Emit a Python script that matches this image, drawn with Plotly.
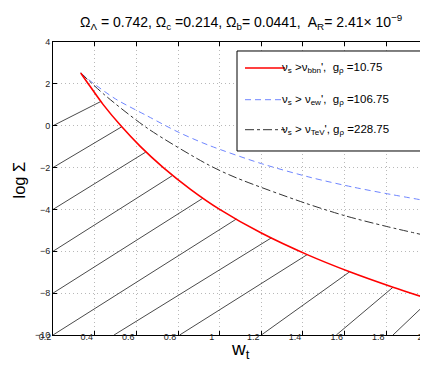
import plotly.graph_objects as go

# ---- data ----
red_x = [0.333, 0.368, 0.44, 0.528, 0.62, 0.728, 0.86, 1.0, 1.2, 1.42, 1.624, 1.832, 2.0]
red_y = [2.52, 2.02, 1.02, -0.03, -1.0, -1.99, -3.04, -4.0, -5.13, -6.16, -6.98, -7.72, -8.27]

blue_x = [0.333, 0.384, 0.5, 0.656, 0.8, 0.944, 1.2, 1.44, 1.648, 1.82, 2.0]
blue_y = [2.52, 2.1, 1.28, 0.45, -0.30, -0.92, -1.81, -2.48, -2.95, -3.28, -3.6]

black_x = [0.333, 0.448, 0.656, 0.944, 1.08, 1.408, 1.608, 1.8, 2.0]
black_y = [2.52, 1.47, -0.14, -1.86, -2.49, -3.69, -4.32, -4.81, -5.27]

# hatch lines: start and end points
hatch_x0 = [0.2, 0.2, 0.2, 0.2, 0.2, 0.2, 0.493, 0.808, 1.20, 1.56, 1.832]
hatch_y0 = [0, -2, -4, -6, -8, -10, -10, -10, -10, -10, -10]
hatch_x1 = [0.43, 0.53, 0.645, 0.775, 0.92, 1.08, 1.248, 1.42, 1.624, 1.832, 2.0]
hatch_y1 = [1.16, -0.05, -1.26, -2.37, -3.46, -4.46, -5.36, -6.16, -6.98, -7.72, -8.41]

x_ticks = [0.2, 0.4, 0.6, 0.8, 1, 1.2, 1.4, 1.6, 1.8, 2]
x_tick_text = ["0.2", "0.4", "0.6", "0.8", "1", "1.2", "1.4", "1.6", "1.8", "2"]
y_ticks = [-10, -8, -6, -4, -2, 0, 2, 4]

legend_labels = [
    "ν<sub>s</sub> >ν<sub>bbn</sub>',  g<sub>ρ</sub> =10.75",
    "ν<sub>s</sub> > ν<sub>ew</sub>',  g<sub>ρ</sub> =106.75",
    "ν<sub>s</sub> > ν<sub>TeV</sub>', g<sub>ρ</sub> =228.75",
]

FONT = "Liberation Sans, Arial, Helvetica, sans-serif"

fig = go.Figure()

hx, hy = [], []
for a, b, c, d in zip(hatch_x0, hatch_y0, hatch_x1, hatch_y1):
    hx += [a, c, None]
    hy += [b, d, None]
fig.add_trace(go.Scatter(x=hx, y=hy, mode="lines",
                         line=dict(color="#4a4a4a", width=1), showlegend=False, hoverinfo="skip"))

fig.add_trace(go.Scatter(x=blue_x, y=blue_y, mode="lines",
                         line=dict(color="#6f86ff", width=1, dash="6px,4px", shape="spline", smoothing=0.8),
                         showlegend=False))
fig.add_trace(go.Scatter(x=black_x, y=black_y, mode="lines",
                         line=dict(color="#333333", width=1, dash="dashdot", shape="spline", smoothing=0.8),
                         showlegend=False))
fig.add_trace(go.Scatter(x=red_x, y=red_y, mode="lines",
                         line=dict(color="#ff0000", width=1.6, shape="spline", smoothing=0.8),
                         showlegend=False))

# ---- manual legend ----
shapes = [dict(type="rect", xref="paper", yref="paper", x0=0.4907, x1=0.9813, y0=0.628, y1=0.9693,
               line=dict(color="black", width=1), fillcolor="white", layer="above")]
row_y = [0.9113, 0.8031, 0.7007]
styles = [dict(color="#ff0000", width=1.6), dict(color="#6f86ff", width=1, dash="6px,4px"),
          dict(color="#333333", width=1, dash="dashdot")]
annotations = []
for yy, st, lab in zip(row_y, styles, legend_labels):
    shapes.append(dict(type="line", xref="paper", yref="paper", x0=0.512, x1=0.6187, y0=yy, y1=yy,
                       line=st, layer="above"))
    annotations.append(dict(xref="paper", yref="paper", x=0.604, y=yy, xanchor="left", yanchor="middle",
                            text=lab, showarrow=False, font=dict(family=FONT, size=11.5, color="black")))

annotations.append(dict(xref="paper", yref="paper", x=0.5, y=1.0, yshift=20, xanchor="center", yanchor="middle",
                        text="Ω<sub>Λ</sub> = 0.742, Ω<sub>c</sub> =0.214, Ω<sub>b</sub>= 0.0441,  A<sub>R</sub>= 2.41× 10<sup>−9</sup>",
                        showarrow=False, font=dict(family=FONT, size=14, color="black")))
annotations.append(dict(xref="paper", yref="paper", x=0.5, y=0.0, yshift=-15, xanchor="center", yanchor="middle",
                        text="w<sub>t</sub>", showarrow=False, font=dict(family=FONT, size=19, color="black")))
annotations.append(dict(xref="paper", yref="paper", x=0.0, y=0.5, xshift=-35, yshift=8,
                        xanchor="center", yanchor="middle",
                        text="log Σ", textangle=-90, showarrow=False, font=dict(family=FONT, size=16.5, color="black")))

grid_common = dict(showline=True, linecolor="black", linewidth=1, mirror="ticks",
                   ticks="inside", ticklen=4, tickcolor="black",
                   showgrid=True, gridcolor="#b8b8b8", griddash="1px,3px", gridwidth=1,
                   zeroline=False, automargin=False, tickfont=dict(size=9, color="#222222"))

fig.update_layout(
    width=428, height=365,
    margin=dict(l=45, r=8, t=34, b=38),
    paper_bgcolor="white", plot_bgcolor="white",
    shapes=shapes, annotations=annotations,
    font=dict(family=FONT, size=9, color="#222222"),
    showlegend=False,
)
fig.update_xaxes(range=[0.1999, 2.0001], tickvals=x_ticks, ticktext=x_tick_text,
                 ticklabeloverflow="allow", ticklabelstandoff=-7, ticklabelshift=-8, **grid_common)
fig.update_yaxes(range=[-10, 4], tickvals=y_ticks, **grid_common)

fig.write_html("out.html")
